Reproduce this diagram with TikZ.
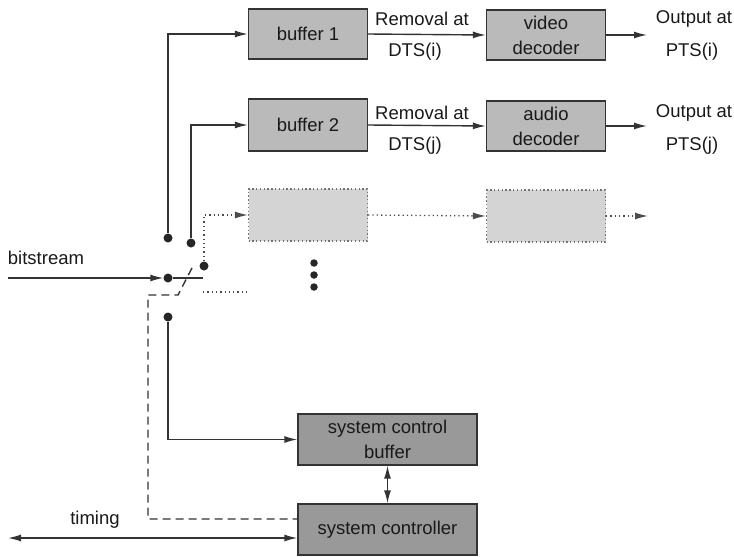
\documentclass[tikz,border=0pt]{standalone}
\usepackage{fontspec}
\setmainfont{Liberation Sans}
\usetikzlibrary{arrows.meta}
\begin{document}
\begin{tikzpicture}[x=1pt,y=-1pt,
  font=\fontsize{18.5}{22}\selectfont,
  every node/.style={text=black!90},
  tip/.tip={Latex[length=13pt,width=7pt]},
  line/.style={draw=black!80,line width=1.4pt},
  arr/.style={line,-tip},
  darr/.style={line,tip-tip},
  dotline/.style={draw=black!70,line width=1.3pt,dash pattern=on 1.3pt off 3pt},
  dashline/.style={draw=black!80,line width=1.4pt,dash pattern=on 8pt off 5pt},
  blk/.style={draw=black!80,line width=1.3pt,fill=black!27,minimum width=119pt,minimum height=50pt,align=center,inner sep=1pt},
  ctl/.style={blk,fill=black!40,minimum width=179pt,minimum height=51pt},
  ghost/.style={draw=black!55,line width=1.2pt,dash pattern=on 1.3pt off 2.5pt,fill=black!17,minimum width=119pt,minimum height=52pt},
  dot/.style={circle,fill=black!85,inner sep=0pt,minimum size=9pt},
  sdot/.style={circle,fill=black!85,inner sep=0pt,minimum size=7.5pt},
  lbl/.style={inner sep=0pt}]
\useasboundingbox (0,0) rectangle (734,557);

% buffers and decoders
\node[blk] (b1) at (308,34) {buffer 1};
\node[blk,minimum height=52pt] (b2) at (308,125) {buffer 2};
\node[ghost] (g1) at (308,215) {};
\node[blk] (vd) at (546,35) {video\\[3pt]decoder};
\node[blk,minimum height=50pt] (ad) at (546,126) {audio\\[3pt]decoder};
\node[ghost] (g2) at (546,216) {};

% system control blocks
\node[ctl] (scb) at (387.5,439.5) {system control\\[3pt]buffer};
\node[ctl] (sc) at (387.5,529.5) {system controller};

% removal and output
\draw[arr] (b1.east) -- (vd.west);
\draw[arr] (b2.east) -- (ad.west);
\draw[dotline,-tip] (g1.east) -- (g2.west);
\coordinate (o1) at (647,35);
\coordinate (o2) at (647,126);
\coordinate (o3) at (648,216);
\draw[arr] (vd.east) -- (o1);
\draw[arr] (ad.east) -- (o2);
\draw[dotline,-tip] (g2.east) -- (o3);

\node[lbl] (r1) at (422,19) {Removal at};
\node[lbl] (t1) at (415,52) {DTS(i)};
\node[lbl] (r2) at (422,113) {Removal at};
\node[lbl] (t2) at (415,146) {DTS(j)};
\node[lbl] (q1) at (694,19) {Output at};
\node[lbl] (p1) at (692,52) {PTS(i)};
\node[lbl] (q2) at (694,113) {Output at};
\node[lbl] (p2) at (692,146) {PTS(j)};

% demultiplexing switch
\coordinate (bsin) at (8,278);
\node[dot] (piv) at (168,278) {};
\coordinate (arm) at (203,278);
\node[dot] (c1) at (168,238) {};
\node[dot] (c2) at (191,243) {};
\node[dot] (c3) at (204,266) {};
\node[dot] (c4) at (168,317) {};
\draw[arr] (bsin) -- (piv);
\draw[line] (piv) -- (arm);
\draw[arr] (c1) |- (b1.west);
\draw[arr] (c2) |- (b2.west);
\draw[dotline,-tip] (c3) |- (g1.west);
\draw[arr] (c4) |- (scb.west);
\coordinate (e1) at (203,292);
\coordinate (e2) at (247,292);
\draw[dotline] (e1) -- (e2);
\node[lbl] (bs) at (46,258) {bitstream};

% more streams
\node[sdot] (m1) at (314,263) {};
\node[sdot] (m2) at (314,275) {};
\node[sdot] (m3) at (314,287) {};

% switch control from the system controller
\coordinate (k1) at (192,268);
\coordinate (k2) at (178,295);
\coordinate (k3) at (148,295);
\coordinate (k4) at (148,519);
\draw[dashline] (k1) -- (k2) -- (k3) -- (k4) -- (k4 -| sc.west);

% timing and control buffer link
\coordinate (tl) at (8,538);
\draw[darr] (tl) -- (tl -| sc.west);
\node[lbl] (tm) at (95,520) {timing};
\draw[darr] (scb.south) -- (sc.north);
\end{tikzpicture}
\end{document}
